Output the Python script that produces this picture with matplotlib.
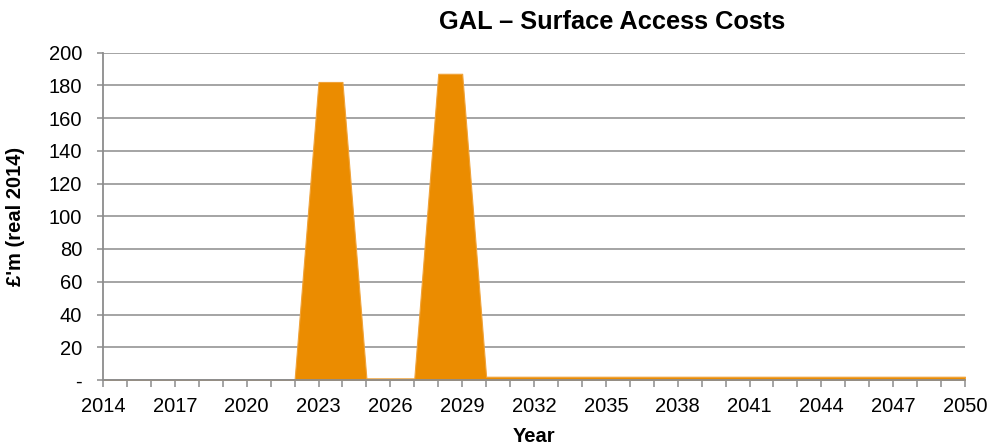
import matplotlib
matplotlib.use("Agg")
import matplotlib.pyplot as plt
import numpy as np

years = list(range(2014, 2051))
costs = [0, 0, 0, 0, 0, 0, 0, 0, 0,      # 2014-2022
         182, 182,                       # 2023-2024
         1, 1, 1,                        # 2025-2027
         187, 187,                       # 2028-2029
         ] + [2] * 21                    # 2030-2050
y_ticks = list(range(0, 201, 20))
y_tick_labels = ["-"] + [str(v) for v in y_ticks[1:]]
x_label_years = list(range(2014, 2051, 3))

title = "GAL \u2013 Surface Access Costs"
x_title = "Year"
y_title = "\u00a3'm (real 2014)"

plt.rcParams['font.family'] = ['Liberation Sans', 'DejaVu Sans']

W, H = 989, 446
fig = plt.figure(figsize=(W / 100, H / 100), dpi=100)
left, right, top, bottom = 103, 965, 52.5, 380
ax = fig.add_axes([left / W, 1 - bottom / H, (right - left) / W, (bottom - top) / H])

orange = '#EB8C00'
grey = '#8C8C8C'
ax.fill_between(years, costs, 0, color=orange, linewidth=0.8, edgecolor='#F0A33A', zorder=3)

ax.set_xlim(2014, 2050)
ax.set_ylim(0, 200)
ax.set_yticks(y_ticks)
ax.set_yticklabels(y_tick_labels)
ax.set_xticks(years)
ax.set_xticklabels([str(y) if y in x_label_years else "" for y in years])

ax.yaxis.grid(True, color=grey, linewidth=1.1, zorder=0)
ax.set_axisbelow(True)
for s in ['top', 'right']:
    ax.spines[s].set_visible(False)
for s in ['left', 'bottom']:
    ax.spines[s].set_color(grey)
    ax.spines[s].set_linewidth(1.3)
    ax.spines[s].set_zorder(4)

ax.tick_params(axis='y', direction='out', length=4, width=1.1, color=grey,
               labelsize=14.5, pad=11)
ax.tick_params(axis='x', direction='out', length=5, width=1.1, color=grey,
               labelsize=14.5, pad=7)

ax.set_ylabel(y_title, fontsize=14.5, fontweight='bold', va='center')
ax.yaxis.set_label_coords((16 - left) / (right - left), 0.5)
ax.set_xlabel(x_title, fontsize=14.5, fontweight='bold', va='center')
ax.xaxis.set_label_coords(0.5, (bottom - 437) / (bottom - top))

fig.text(612 / W, 1 - 22 / H, title, fontsize=18.3, fontweight='bold',
         ha='center', va='center')

fig.savefig('out.png', dpi=100)
